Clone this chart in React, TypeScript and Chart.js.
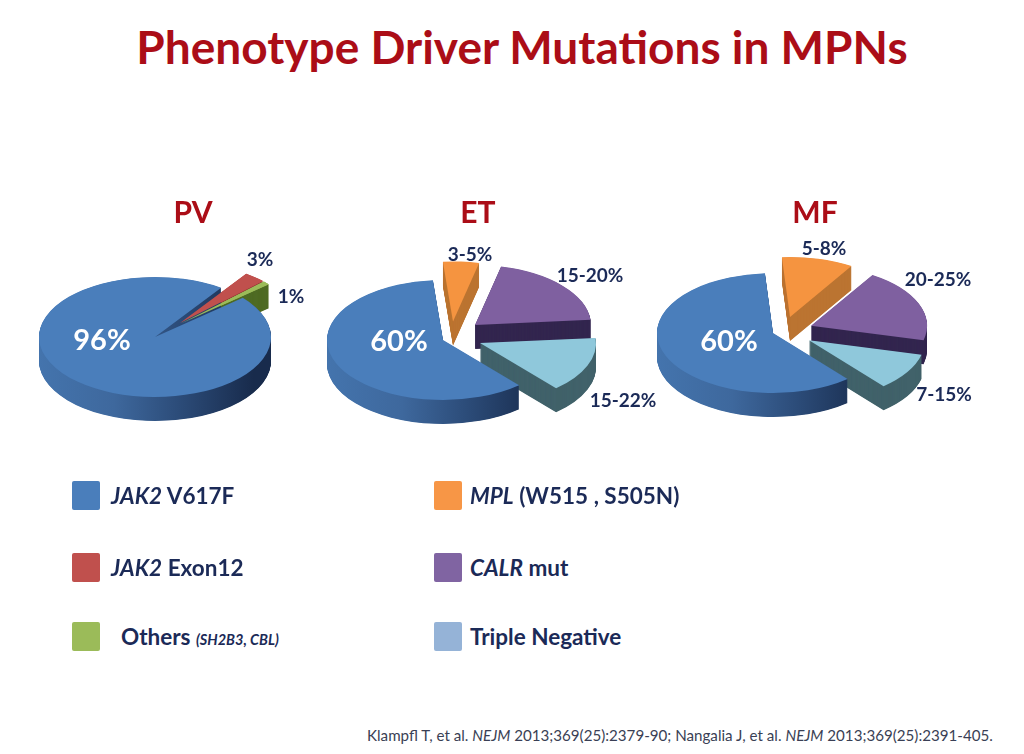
import React, { useEffect, useRef } from "react";
import { Chart, registerables } from "chart.js";

Chart.register(...registerables);

// ---------- data ----------
const pvCategories = ["JAK2 V617F", "JAK2 Exon12", "Others"];
const pvValues = [96, 3, 1];
const etCategories = ["JAK2 V617F", "MPL", "CALR mut", "Triple Negative"];
const etValues = [60, 5, 20, 15];
const mfCategories = ["JAK2 V617F", "MPL", "CALR mut", "Triple Negative"];
const mfValues = [60, 10, 20, 10];

const titleText = "Phenotype Driver Mutations in MPNs";
const footerParts: [string, boolean][] = [
  ["Klampfl T, et al. ", false],
  ["NEJM", true],
  [" 2013;369(25):2379-90; Nangalia J, et al. ", false],
  ["NEJM", true],
  [" 2013;369(25):2391-405.", false],
];

// ---------- styling / layout ----------
const SQUASH = 0.517;
const RADIUS = 116;
const DEPTH = 24;
const CANVAS = 320;

const BLUE = "#4a7ebb", RED = "#c0504d", GREEN = "#9bbb59", ORANGE = "#f59440", PURPLE = "#7f60a0", LIGHT = "#8fc8db";
const RED_S = "#8c3531", GREEN_S = "#4f6b24", ORANGE_S = "#bb7431", PURPLE_S = "#33264f", LIGHT_S = "#41626a";

type PieSpec = {
  name: string; cx: number; cy: number; rotation: number; titleX: number;
  categories: string[]; values: number[]; colors: string[]; sides: string[];
  shifts: [number, number][]; order: number[]; overlay: number[];
};

const pies: PieSpec[] = [
  {
    name: "PV", cx: 155, cy: 337, rotation: 49.2, titleX: 193,
    categories: pvCategories, values: pvValues,
    colors: [BLUE, RED, GREEN], sides: ["grad", RED_S, GREEN_S],
    shifts: [[0, 0], [25, -27], [26, -26]], order: [1, 2, 0], overlay: [1, 2],
  },
  {
    name: "ET", cx: 443, cy: 340, rotation: 139, titleX: 478,
    categories: etCategories, values: etValues,
    colors: [BLUE, ORANGE, PURPLE, LIGHT], sides: ["grad", ORANGE_S, PURPLE_S, LIGHT_S],
    shifts: [[0, 0], [10, -36], [32, -29], [37, 6]], order: [1, 2, 3, 0], overlay: [],
  },
  {
    name: "MF", cx: 773, cy: 333, rotation: 140, titleX: 815,
    categories: mfCategories, values: mfValues,
    colors: [BLUE, ORANGE, PURPLE, LIGHT], sides: ["grad", ORANGE_S, PURPLE_S, LIGHT_S],
    shifts: [[0, 0], [17, -31], [38, -14], [36, 14]], order: [1, 2, 3, 0], overlay: [],
  },
];

const valueLabels: { t: string; x: number; y: number; big?: boolean }[] = [
  { t: "96%", x: 102, y: 338, big: true },
  { t: "3%", x: 260, y: 258 },
  { t: "1%", x: 291, y: 295 },
  { t: "60%", x: 399, y: 339, big: true },
  { t: "3-5%", x: 470, y: 253 },
  { t: "15-20%", x: 590, y: 274 },
  { t: "15-22%", x: 623, y: 399 },
  { t: "60%", x: 729, y: 339, big: true },
  { t: "5-8%", x: 824, y: 247 },
  { t: "20-25%", x: 938, y: 278 },
  { t: "7-15%", x: 944, y: 393 },
];

const legendRows: { color: string; x: number; y: number; tx: number; italic: string; rest: string; small?: string }[] = [
  { color: "#4a7ebb", x: 72, y: 481, tx: 111, italic: "JAK2", rest: " V617F" },
  { color: "#c0504d", x: 72, y: 553, tx: 111, italic: "JAK2", rest: " Exon12" },
  { color: "#9bbb59", x: 72, y: 622, tx: 121, italic: "", rest: "Others ", small: "(SH2B3, CBL)" },
  { color: "#f79646", x: 434, y: 481, tx: 470, italic: "MPL", rest: " (W515 , S505N)" },
  { color: "#8064a2", x: 434, y: 553, tx: 470, italic: "CALR", rest: " mut" },
  { color: "#95b3d7", x: 434, y: 622, tx: 470, italic: "", rest: "Triple Negative" },
];

const FONT = "Lato, 'Open Sans', sans-serif";
const NAVY = "#1b2a57";
const TITLE_RED = "#ab0d17";

function Pie({ spec }: { spec: PieSpec }) {
  const ref = useRef<HTMLCanvasElement | null>(null);
  useEffect(() => {
    if (!ref.current) return;
    const extrudePlugin = {
      id: "extrude",
      beforeDatasetsDraw(chart: any) {
        const ctx: CanvasRenderingContext2D = chart.ctx;
        const arcs = chart.getDatasetMeta(0).data;
        const place = (arc: any, i: number) => {
          const [dx, dy] = spec.shifts[i];
          ctx.translate(arc.x, arc.y);
          ctx.scale(1, SQUASH);
          ctx.translate(-arc.x + dx, -arc.y + dy);
        };
        spec.order.forEach((i) => {
          const arc = arcs[i];
          ctx.save();
          place(arc, i);
          let side: string | CanvasGradient = spec.sides[i];
          if (side === "grad") {
            const g = ctx.createLinearGradient(arc.x - RADIUS, 0, arc.x + RADIUS * 0.85, 0);
            g.addColorStop(0, "#4474ad");
            g.addColorStop(0.35, "#3e689d");
            g.addColorStop(0.65, "#2c4c79");
            g.addColorStop(1, "#182b4c");
            side = g;
          }
          ctx.fillStyle = side;
          for (let d = DEPTH; d > 0; d -= 0.5) {
            const off = d / SQUASH;
            ctx.beginPath();
            ctx.moveTo(arc.x, arc.y + off);
            ctx.arc(arc.x, arc.y + off, arc.outerRadius, arc.startAngle, arc.endAngle);
            ctx.closePath();
            ctx.fill();
          }
          arc.draw(ctx);
          ctx.restore();
        });
        spec.overlay.forEach((i) => {
          ctx.save();
          place(arcs[i], i);
          arcs[i].draw(ctx);
          ctx.restore();
        });
        return false;
      },
    };
    const chart = new Chart(ref.current, {
      type: "pie",
      data: {
        labels: spec.categories,
        datasets: [{ data: spec.values, backgroundColor: spec.colors, borderWidth: 0, clip: false } as any],
      },
      options: {
        responsive: false,
        animation: false,
        radius: RADIUS,
        rotation: spec.rotation,
        layout: { padding: 0 },
        plugins: { legend: { display: false }, tooltip: { enabled: false } },
      } as any,
      plugins: [extrudePlugin as any],
    });
    return () => chart.destroy();
  }, [spec]);
  return (
    <canvas
      ref={ref}
      width={CANVAS}
      height={CANVAS}
      style={{ position: "absolute", left: spec.cx - CANVAS / 2, top: spec.cy - CANVAS / 2, width: CANVAS, height: CANVAS }}
    />
  );
}

const centered = (x: number, y: number): React.CSSProperties => ({
  position: "absolute", left: x, top: y, transform: "translate(-50%, -50%)", whiteSpace: "nowrap",
});

export default function App() {
  return (
    <div style={{ position: "absolute", left: 0, top: 0, width: 1024, height: 754, background: "#fff", overflow: "hidden", fontFamily: FONT }}>
      {pies.map((p) => <Pie key={p.name} spec={p} />)}
      <div style={{ ...centered(522, 46), color: TITLE_RED, fontSize: 46, fontWeight: 700 }}>{titleText}</div>
      {pies.map((p) => (
        <div key={p.name} style={{ ...centered(p.titleX, 211), color: TITLE_RED, fontSize: 30, fontWeight: 700 }}>{p.name}</div>
      ))}
      {valueLabels.map((l, i) => (
        <div key={i} style={{ ...centered(l.x, l.y), color: l.big ? "#fff" : NAVY, fontSize: l.big ? 29 : 19, fontWeight: 700 }}>{l.t}</div>
      ))}
      {legendRows.map((r, i) => (
        <React.Fragment key={i}>
          <div style={{ position: "absolute", left: r.x, top: r.y, width: 28, height: 29, background: r.color, borderRadius: 2 }} />
          <div style={{ position: "absolute", left: r.tx, top: r.y + 14, transform: "translateY(-50%)", whiteSpace: "pre", color: NAVY, fontSize: 22.5, fontWeight: 700 }}>
            {r.italic && <i>{r.italic}</i>}
            {r.rest}
            {r.small && <i style={{ fontSize: 14.5 }}>{r.small}</i>}
          </div>
        </React.Fragment>
      ))}
      <div style={{ position: "absolute", left: 367, top: 735, transform: "translateY(-50%)", whiteSpace: "pre", color: "#3a3f55", fontSize: 15.15 }}>
        {footerParts.map(([t, it], i) => (it ? <i key={i}>{t}</i> : <span key={i}>{t}</span>))}
      </div>
    </div>
  );
}
